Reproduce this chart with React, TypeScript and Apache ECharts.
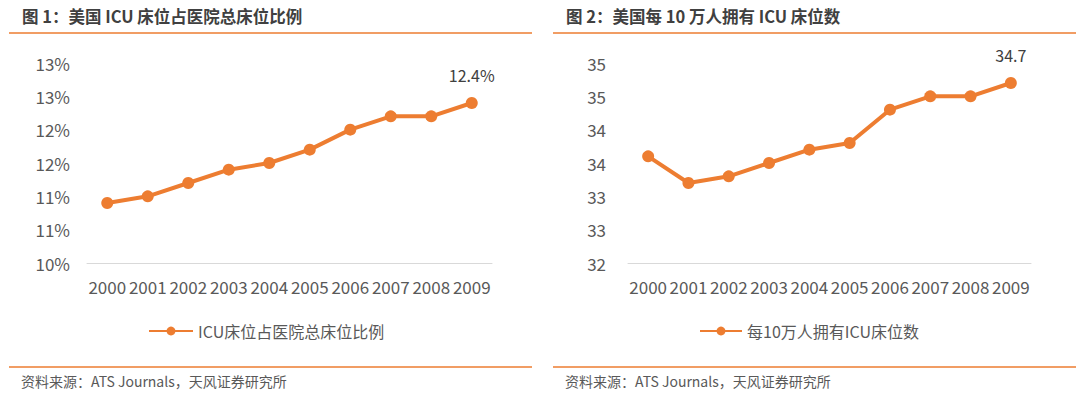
import React, { useEffect, useRef } from "react";
import * as echarts from "echarts";

const years = ["2000", "2001", "2002", "2003", "2004", "2005", "2006", "2007", "2008", "2009"];
const icuShare = [10.9, 11.0, 11.2, 11.4, 11.5, 11.7, 12.0, 12.2, 12.2, 12.4];
const icuPer100k = [33.6, 33.2, 33.3, 33.5, 33.7, 33.8, 34.3, 34.5, 34.5, 34.7];

const title1 = "图 1：美国 ICU 床位占医院总床位比例";
const title2 = "图 2：美国每 10 万人拥有 ICU 床位数";
const name1 = "ICU床位占医院总床位比例";
const name2 = "每10万人拥有ICU床位数";
const source = "资料来源：ATS Journals，天风证券研究所";

const ORANGE = "#ED7D31";
const FONT = "'Noto Sans CJK SC', 'Noto Sans', sans-serif";

export default function App() {
  const ref = useRef<HTMLDivElement>(null);
  useEffect(() => {
    if (!ref.current) return;
    const chart = echarts.init(ref.current, null, { renderer: "svg" });
    const axisLabel = { color: "#595959", fontSize: 17, fontFamily: FONT };
    const xAxisBase = {
      type: "category",
      data: years,
      axisLine: { lineStyle: { color: "#D9D9D9", width: 1 } },
      axisTick: { show: false },
      axisLabel: { ...axisLabel, margin: 15, interval: 0 },
    };
    const yBase = {
      type: "value",
      interval: 0.5,
      splitLine: { show: false },
      axisLine: { show: false },
      axisTick: { show: false },
    };
    const lastLabel = (fmt: (v: number) => string) => ({
      show: true,
      position: "top",
      distance: 14,
      color: "#404040",
      fontSize: 16,
      fontFamily: FONT,
      formatter: (p: any) => (p.dataIndex === years.length - 1 ? fmt(p.value) : ""),
    });
    const legendText = { color: "#595959", fontSize: 16, fontFamily: FONT };
    chart.setOption({
      animation: false,
      textStyle: { fontFamily: FONT },
      grid: [
        { left: 87, right: 588, top: 63, bottom: 136 },
        { left: 628, right: 49, top: 63, bottom: 136 },
      ],
      xAxis: [
        { ...xAxisBase, gridIndex: 0 },
        { ...xAxisBase, gridIndex: 1 },
      ],
      yAxis: [
        {
          ...yBase,
          gridIndex: 0,
          min: 10,
          max: 13,
          axisLabel: { ...axisLabel, margin: 17, formatter: (v: number) => Math.round(v) + "%" },
        },
        {
          ...yBase,
          gridIndex: 1,
          min: 32,
          max: 35,
          axisLabel: { ...axisLabel, margin: 22, formatter: (v: number) => String(Math.round(v)) },
        },
      ],
      legend: [
        {
          data: [name1],
          left: 143,
          top: 318,
          itemWidth: 44,
          itemHeight: 11,
          textStyle: legendText,
        },
        {
          data: [name2],
          left: 694,
          top: 318,
          itemWidth: 42,
          itemHeight: 11,
          textStyle: legendText,
        },
      ],
      series: [
        {
          name: name1,
          type: "line",
          xAxisIndex: 0,
          yAxisIndex: 0,
          data: icuShare,
          symbol: "circle",
          symbolSize: 12,
          itemStyle: { color: ORANGE },
          lineStyle: { color: ORANGE, width: 4 },
          label: lastLabel((v) => v.toFixed(1) + "%"),
        },
        {
          name: name2,
          type: "line",
          xAxisIndex: 1,
          yAxisIndex: 1,
          data: icuPer100k,
          symbol: "circle",
          symbolSize: 12,
          itemStyle: { color: ORANGE },
          lineStyle: { color: ORANGE, width: 4 },
          label: lastLabel((v) => v.toFixed(1)),
        },
      ],
      graphic: [
        {
          type: "text",
          left: 22,
          top: 8,
          style: { text: title1, fill: "#404040", font: `bold 16.5px ${FONT}` },
        },
        {
          type: "text",
          left: 566,
          top: 8,
          style: { text: title2, fill: "#404040", font: `bold 16.5px ${FONT}` },
        },
        { type: "line", shape: { x1: 9, y1: 33, x2: 532, y2: 33 }, style: { stroke: ORANGE, lineWidth: 1.5 } },
        { type: "line", shape: { x1: 553, y1: 33, x2: 1076, y2: 33 }, style: { stroke: ORANGE, lineWidth: 1.5 } },
        { type: "line", shape: { x1: 9, y1: 367, x2: 532, y2: 367 }, style: { stroke: ORANGE, lineWidth: 1.5 } },
        { type: "line", shape: { x1: 553, y1: 367, x2: 1076, y2: 367 }, style: { stroke: ORANGE, lineWidth: 1.5 } },
        {
          type: "text",
          left: 21,
          top: 374,
          style: { text: source, fill: "#595959", font: `14px ${FONT}` },
        },
        {
          type: "text",
          left: 565,
          top: 374,
          style: { text: source, fill: "#595959", font: `14px ${FONT}` },
        },
      ],
    });
    return () => chart.dispose();
  }, []);
  return (
    <div
      ref={ref}
      style={{ position: "fixed", left: 0, top: 0, width: 1080, height: 399, background: "#fff" }}
    />
  );
}
